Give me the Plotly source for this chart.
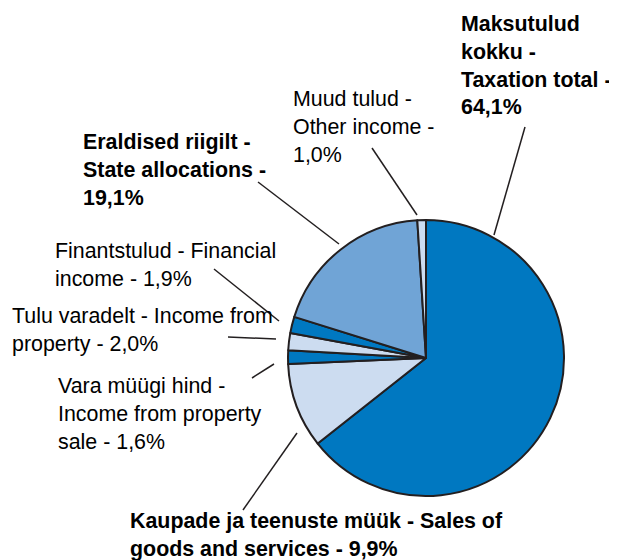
import plotly.graph_objects as go

# page body has an 8px margin, so the figure is sized to fit the window
PAD = 8
W, H = 617 - PAD, 560 - PAD

# data, clockwise from 12 o'clock
labels = [
    "Maksutulud kokku - Taxation total",
    "Kaupade ja teenuste müük - Sales of goods and services",
    "Vara müügi hind - Income from property sale",
    "Tulu varadelt - Income from property",
    "Finantstulud - Financial income",
    "Eraldised riigilt - State allocations",
    "Muud tulud - Other income",
]
shares = [64.1, 9.9, 1.6, 2.0, 1.9, 19.1, 1.0]
colors = ["#0078C1", "#CCDCF0", "#0078C1", "#CCDCF0", "#0078C1", "#70A4D6", "#CCDCF0"]

# label texts as shown on the chart
label_lines = [
    ["Maksutulud", "kokku -", "Taxation total -", "64,1%"],
    ["Kaupade ja teenuste müük - Sales of", "goods and services - 9,9%"],
    ["Vara müügi hind -", "Income from property", "sale - 1,6%"],
    ["Tulu varadelt - Income from", "property - 2,0%"],
    ["Finantstulud - Financial", "income - 1,9%"],
    ["Eraldised riigilt -", "State allocations -", "19,1%"],
    ["Muud tulud -", "Other income -", "1,0%"],
]
bold = [True, True, False, False, False, True, False]

# layout (window px): label top-left and leader line ends
label_pos = [(459, 10), (128, 507), (56, 372), (10, 302), (53, 237), (81, 128), (291, 85)]
leaders = [
    ((525, 127), (494, 235)),
    ((243, 510), (297, 433)),
    ((252, 378), (274, 364)),
    ((228, 337), (276, 339)),
    ((214, 269), (279, 321)),
    ((258, 182), (339, 244)),
    ((372, 148), (417, 215)),
]

cx, cy, r = 426, 358, 138


def px(x):
    return (x - PAD) / W


def py(y):
    return 1 - (y - PAD) / H


fig = go.Figure(go.Pie(
    labels=labels,
    values=shares,
    sort=False,
    direction="clockwise",
    rotation=0,
    marker=dict(colors=colors, line=dict(color="#231F20", width=2)),
    textinfo="none",
    hoverinfo="label+percent",
    domain=dict(x=[px(cx - r), px(cx + r)], y=[py(cy + r), py(cy - r)]),
    showlegend=False,
))

for lines, b, (lx, ly) in zip(label_lines, bold, label_pos):
    txt = "<br>".join(f"<b>{s}</b>" if b else s for s in lines)
    fig.add_annotation(
        x=px(lx), y=py(ly), xref="paper", yref="paper",
        xanchor="left", yanchor="top", align="left",
        text=txt, showarrow=False,
        font=dict(family="Liberation Sans, Arial, sans-serif", size=21.4, color="#000000"),
    )

for (x0, y0), (x1, y1) in leaders:
    fig.add_shape(
        type="line", xref="paper", yref="paper",
        x0=px(x0), y0=py(y0), x1=px(x1), y1=py(y1),
        line=dict(color="#231F20", width=1.5),
    )

fig.update_layout(
    width=W, height=H,
    margin=dict(l=0, r=0, t=0, b=0),
    paper_bgcolor="white",
    plot_bgcolor="white",
)

fig.write_html("out.html")
